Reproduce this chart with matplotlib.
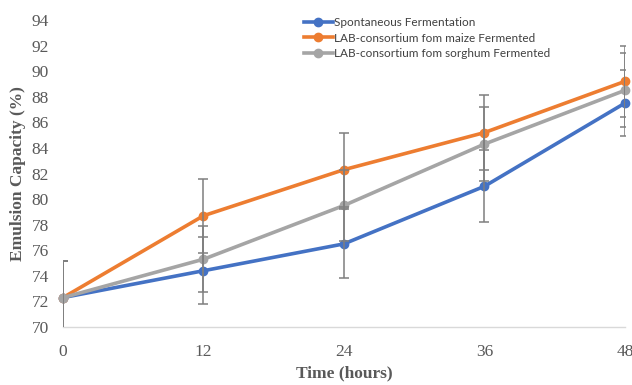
import numpy as np
import matplotlib.pyplot as plt

# Data
hours = [0, 12, 24, 36, 48]
spontaneous = [72.3, 74.4, 76.5, 81.0, 87.5]
maize = [72.3, 78.7, 82.3, 85.2, 89.2]
sorghum = [72.3, 75.3, 79.5, 84.3, 88.5]

spontaneous_err = [2.9, 2.6, 2.7, 2.8, 2.6]
maize_err = [2.9, 2.9, 2.9, 2.9, 2.8]
sorghum_err = [2.9, 2.6, 2.8, 2.9, 2.9]

labels = ['Spontaneous Fermentation',
          'LAB-consortium fom maize Fermented',
          'LAB-consortium fom sorghum Fermented']
colors = ['#4472C4', '#ED7D31', '#A5A5A5']

fig = plt.figure(figsize=(6.32, 3.85), dpi=100)
ax = fig.add_axes([0.0997, 0.1506, 0.889, 0.7974])

series = [(spontaneous, spontaneous_err), (maize, maize_err), (sorghum, sorghum_err)]
for (vals, err), lab, col in zip(series, labels, colors):
    ax.plot(hours, vals, color=col, lw=2.6, marker='o', ms=6, label=lab,
            clip_on=False, zorder=3)
    ax.errorbar(hours, vals, yerr=err, fmt='none', ecolor='#7f7f7f',
                elinewidth=1.1, capsize=3.5, capthick=1.1, zorder=4)

ax.set_xlim(0, 48)
ax.set_ylim(70, 94)
ax.set_xticks(hours)
ax.set_yticks(np.arange(70, 95, 2))

serif = 'Liberation Serif'
for t in ax.get_xticklabels() + ax.get_yticklabels():
    t.set_family(serif)
    t.set_fontsize(12.5)
    t.set_color('#595959')
ax.tick_params(length=0)
ax.tick_params(axis='x', pad=12)
ax.tick_params(axis='y', pad=10)

ax.set_xlabel('Time (hours)', family=serif, fontsize=12.5, fontweight='bold',
              color='#595959', labelpad=4)
ax.set_ylabel('Emulsion Capacity (%)', family=serif, fontsize=12.5,
              fontweight='bold', color='#595959', labelpad=4)

for s in ['top', 'right', 'left']:
    ax.spines[s].set_visible(False)
ax.spines['bottom'].set_color('#d9d9d9')
ax.spines['bottom'].set_linewidth(1)

leg = ax.legend(loc='upper left', bbox_to_anchor=(0.42, 1.025), frameon=False,
                prop={'family': 'Lato', 'size': 8.5}, handlelength=2.5,
                handletextpad=0.1, labelspacing=0.38, borderaxespad=0)
for t in leg.get_texts():
    t.set_color('#404040')

fig.savefig('out.png', dpi=100)
